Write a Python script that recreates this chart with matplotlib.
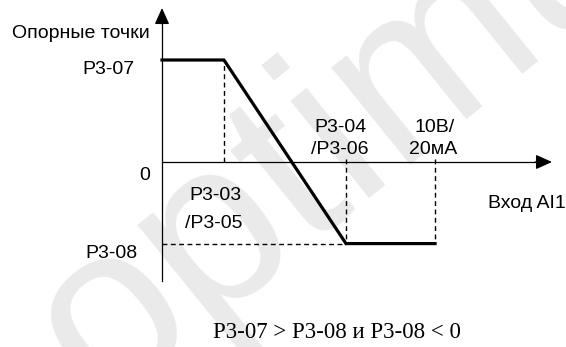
import matplotlib
matplotlib.use("Agg")
import matplotlib.pyplot as plt

# Data (input units: 0..10 V, output in relative units)
curve_x = [0, 2.27, 6.74, 10.0]
curve_y = [1.0, 1.0, -0.8, -0.8]
p307 = 1.0
p308 = -0.8
x_p303 = 2.27
x_p304 = 6.74
x_max = 10.0

y_labels = ["P3-07", "0", "P3-08"]
caption = "P3-07 > P3-08 и P3-08 < 0"

W, H = 566, 347
fig = plt.figure(figsize=(W / 100, H / 100), dpi=100)
ax = fig.add_axes([0, 0, 1, 1])
sx, sy = 27.3, 102.0
x0, y0 = 162, 162
ax.set_xlim(-x0 / sx, (W - x0) / sx)
ax.set_ylim(-(H - y0) / sy, y0 / sy)
ax.axis("off")


def X(px):
    return (px - x0) / sx


def Y(py):
    return (y0 - py) / sy


sans = ["Liberation Sans", "DejaVu Sans"]
serif = ["Liberation Serif", "DejaVu Serif"]

# watermark
ax.text(X(100), Y(408), "optimus", fontsize=170, color="#eaeaea", rotation=39,
        ha="left", va="baseline", rotation_mode="anchor", family=sans, zorder=0)

# axes with arrows
ax.plot([0, 0], [Y(281), Y(20)], color="black", lw=0.9, zorder=2)
ax.annotate("", xy=(0, Y(8)), xytext=(0, Y(24)),
            arrowprops=dict(arrowstyle="-|>,head_length=1.0,head_width=0.45",
                            color="black", lw=0.9, shrinkA=0, shrinkB=0), zorder=3)
ax.plot([0, X(538)], [0, 0], color="black", lw=0.9, zorder=2)
ax.annotate("", xy=(X(552), 0), xytext=(X(535), 0),
            arrowprops=dict(arrowstyle="-|>,head_length=1.0,head_width=0.45",
                            color="black", lw=0.9, shrinkA=0, shrinkB=0), zorder=3)

# dashed guides
dash = dict(color="black", lw=1.0, ls=(0, (3.5, 2.5)), zorder=2)
ax.plot([x_p303, x_p303], [0, p307], **dash)
ax.plot([x_p304, x_p304], [Y(159), p308], **dash)
ax.plot([x_max, x_max], [Y(159), p308], **dash)
ax.plot([0, x_p304], [p308, p308], **dash)

# main curve
ax.plot(curve_x, curve_y, color="black", lw=2.3, solid_joinstyle="miter", zorder=4)

fs = 14
kw = dict(fontsize=fs, family=sans, va="center")
ax.text(X(150), Y(33), "Опорные точки", ha="right", **kw)
ax.text(X(134), Y(70), y_labels[0], ha="right", **kw)
ax.text(X(150), Y(175), y_labels[1], ha="right", **kw)
ax.text(X(137), Y(254), y_labels[2], ha="right", **kw)

ax.text(X(215), Y(195), "P3-03", ha="center", **kw)
ax.text(X(214), Y(224), "/P3-05", ha="center", **kw)
ax.text(X(340), Y(128), "P3-04", ha="center", **kw)
ax.text(X(340), Y(150), "/P3-06", ha="center", **kw)
ax.text(X(435), Y(128), "10B/", ha="center", **kw)
ax.text(X(433), Y(150), "20мA", ha="center", **kw)
ax.text(X(566), Y(204), "Вход AI1", ha="right", **kw)

ax.text(X(337), Y(333), caption, ha="center", va="center",
        fontsize=16.5, family=serif)

fig.savefig("out.png", dpi=100)
